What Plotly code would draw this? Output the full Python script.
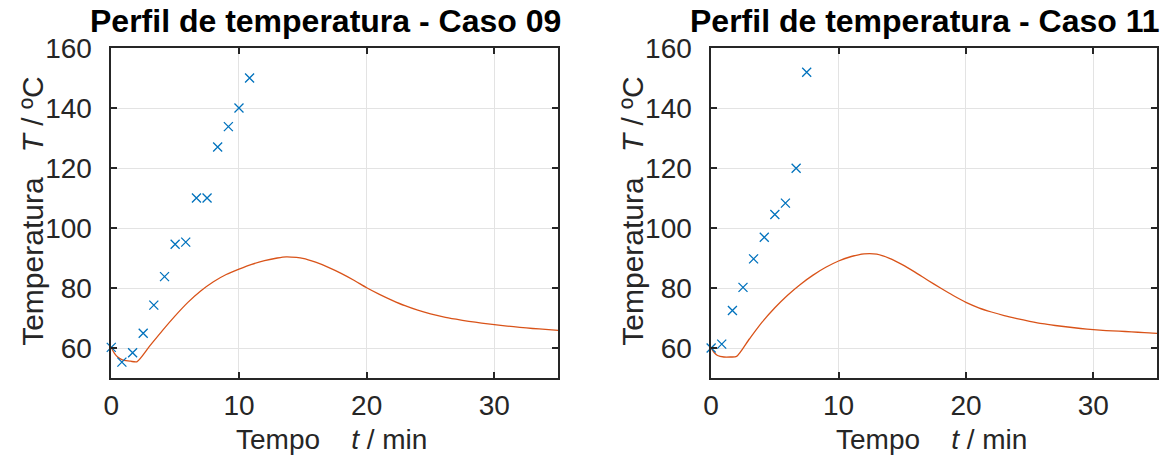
import plotly.graph_objects as go

# Experimental measurements (symbols)
t_exp_09 = [0.0, 0.83, 1.67, 2.5, 3.33, 4.17, 5.0, 5.83, 6.67, 7.5, 8.33, 9.17, 10.0, 10.83]
T_exp_09 = [60.2, 55.3, 58.4, 64.9, 74.3, 83.8, 94.6, 95.3, 110.0, 110.0, 127.0, 133.8, 140.0, 150.0]

t_exp_11 = [0.0, 0.83, 1.67, 2.5, 3.33, 4.17, 5.0, 5.83, 6.67, 7.5]
T_exp_11 = [60.0, 61.3, 72.5, 80.2, 89.7, 96.9, 104.5, 108.3, 119.9, 151.9]

# Simulated temperature profiles (lines)
t_sim_09 = [0, 0.25, 0.5, 0.75, 1.0, 1.5, 2.0, 3.0, 4.0, 5.0, 6.0, 7.0, 8.0, 9.0, 10.0,
            11.0, 12.0, 13.0, 13.7, 14.5, 15.0, 16.0, 17.0, 18.0, 19.0, 20.0, 21.0, 22.0, 23.0,
            24.0, 25.0, 26.0, 27.0, 28.0, 29.0, 30.0, 31.0, 32.0, 33.0, 34.0, 35.0]
T_sim_09 = [60.1, 58.2, 57.0, 56.3, 55.9, 55.6, 55.4, 60.6, 65.8, 70.7, 75.2, 79.0, 82.1,
            84.5, 86.3, 87.9, 89.1, 90.0, 90.4, 90.2, 89.9, 88.6, 86.9, 84.9, 82.6, 80.1,
            77.9, 75.9, 74.1, 72.6, 71.4, 70.4, 69.6, 68.9, 68.3, 67.8, 67.3, 66.9, 66.5,
            66.2, 65.9]

t_sim_11 = [0, 0.25, 0.5, 1.0, 1.5, 2.0, 3.0, 4.0, 5.0, 6.0, 7.0, 8.0, 9.0, 10.0,
            11.0, 12.0, 13.0, 14.0, 15.0, 16.0, 17.0, 18.0, 19.0, 20.0, 21.0, 22.0, 23.0,
            24.0, 25.0, 26.0, 27.0, 28.0, 29.0, 30.0, 31.0, 32.0, 33.0, 34.0, 35.0]
T_sim_11 = [60.0, 58.4, 57.5, 57.0, 57.0, 57.2, 63.0, 68.6, 73.4, 77.6, 81.2, 84.3, 86.9,
            89.0, 90.5, 91.4, 91.3, 89.9, 87.8, 85.3, 82.6, 80.0, 77.5, 75.2, 73.4, 72.0,
            70.8, 69.8, 68.9, 68.1, 67.5, 67.0, 66.5, 66.1, 65.8, 65.6, 65.4, 65.1, 64.9]

titles = ["Perfil de temperatura - Caso 09", "Perfil de temperatura - Caso 11"]
x_label = "Tempo    <i>t</i> / min"
y_label = "Temperatura   <i>T</i> / ºC"
x_ticks = [0, 10, 20, 30]
y_ticks = [60, 80, 100, 120, 140, 160]

W, H = 1167, 456
M_T, M_B = 48, 78
PH = H - M_T - M_B
FONT = "Liberation Sans, Arial, sans-serif"
BLUE = "#0072BD"
ORANGE = "#D95319"
AXC = "#262626"


def py(ypx):
    """Pixel row -> paper y coordinate."""
    return (H - M_B - ypx) / PH


fig = go.Figure()

cases = [
    (t_exp_09, T_exp_09, t_sim_09, T_sim_09, "x", "y"),
    (t_exp_11, T_exp_11, t_sim_11, T_sim_11, "x2", "y2"),
]
for te, Te, ts, Ts, xa, ya in cases:
    fig.add_trace(go.Scatter(x=ts, y=Ts, mode="lines", xaxis=xa, yaxis=ya,
                             line=dict(color=ORANGE, width=1.3, shape="spline", smoothing=0.7),
                             showlegend=False))
    fig.add_trace(go.Scatter(x=te, y=Te, mode="markers", xaxis=xa, yaxis=ya,
                             marker=dict(symbol="x-thin", size=9, color=BLUE,
                                         line=dict(color=BLUE, width=1.3)),
                             showlegend=False, cliponaxis=False))

axis_common = dict(
    showline=True, linecolor=AXC, linewidth=1.5, mirror="ticks",
    ticks="inside", ticklen=6, tickwidth=1.5, tickcolor=AXC,
    showgrid=True, gridcolor="#e3e3e3", gridwidth=1, zeroline=False,
    tickfont=dict(family=FONT, size=28, color=AXC),
)

# plot areas in pixels: left [104, 554], right [708, 1157], top 48, bottom 378
x_dom = [(104 / W, 554 / W), (708 / W, 1157 / W)]

layout = dict(
    width=W, height=H,
    margin=dict(l=0, r=0, t=M_T, b=M_B),
    paper_bgcolor="white", plot_bgcolor="white",
    font=dict(family=FONT, color=AXC),
    showlegend=False,
)
for i, (xa, ya) in enumerate([("xaxis", "yaxis"), ("xaxis2", "yaxis2")]):
    anchor_x = "x" if i == 0 else "x2"
    anchor_y = "y" if i == 0 else "y2"
    layout[xa] = dict(axis_common, domain=list(x_dom[i]), anchor=anchor_y,
                      range=[0, 35], tickvals=x_ticks, ticklabelstandoff=2)
    layout[ya] = dict(axis_common, domain=[0, 1], anchor=anchor_x,
                      range=[50, 160], tickvals=y_ticks, ticklabelstandoff=12)

fig.update_layout(**layout)

annotations = []
for i in range(2):
    x0, x1 = x_dom[i]
    xc = (x0 + x1) / 2
    annotations.append(dict(text="<b>" + titles[i] + "</b>", x=xc - 9 / W, y=py(21),
                            xref="paper", yref="paper", showarrow=False,
                            xanchor="center", yanchor="middle",
                            font=dict(family=FONT, size=32, color="black")))
    annotations.append(dict(text=x_label, x=xc - 3 / W, y=py(439),
                            xref="paper", yref="paper", showarrow=False,
                            xanchor="center", yanchor="middle",
                            font=dict(family=FONT, size=28, color=AXC)))
    annotations.append(dict(text=y_label, x=x0 - 80 / W, y=py(211),
                            xref="paper", yref="paper", showarrow=False, textangle=-90,
                            xanchor="center", yanchor="middle",
                            font=dict(family=FONT, size=30, color=AXC)))
fig.update_layout(annotations=annotations)

fig.write_html("out.html")
